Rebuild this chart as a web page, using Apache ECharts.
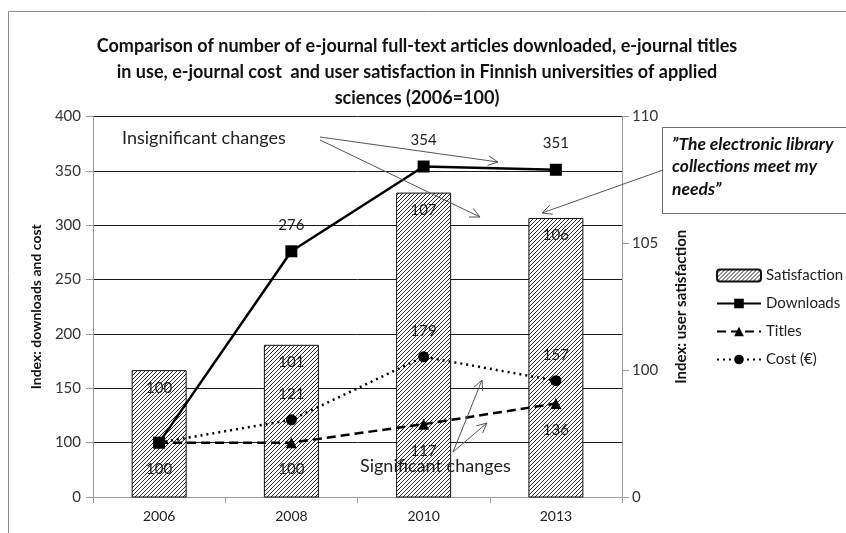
<!DOCTYPE html>
<html>
<head>
<meta charset="utf-8">
<script src="https://cdn.jsdelivr.net/npm/echarts@6/dist/echarts.min.js"></script>
<style>
  html, body { margin: 0; padding: 0; background: #fff; }
  #chart { width: 846px; height: 533px; }
</style>
</head>
<body>
<div id="chart"></div>
<script>
// Survey years
var years = ['2006', '2008', '2010', '2013'];

// Index values (2006 = 100)
var satisfaction = [100, 101, 107, 106];
var downloads = [100, 276, 354, 351];
var titles = [100, 100, 117, 136];
var cost = [100, 121, 179, 157];

// Which points carry a value label
var downloadsLabelled = [false, true, true, true];
var costLabelled = [false, true, true, true];
var titlesLabelled = [true, true, true, true];

// Axis tick labels (the lowest tick of each broken axis reads "0")
var leftTickLabels = ['0', '100', '150', '200', '250', '300', '350', '400'];
var rightTickLabels = ['0', '100', '105', '110'];

var FONT = 'Lato, "Open Sans", sans-serif';

// Diagonal hatch used for the satisfaction bars
function hatchPattern() {
  var c = document.createElement('canvas');
  c.width = 4; c.height = 4;
  var g = c.getContext('2d');
  g.fillStyle = '#ffffff';
  g.fillRect(0, 0, 4, 4);
  g.strokeStyle = '#2a2a2a';
  g.lineWidth = 1;
  g.beginPath();
  g.moveTo(-1, 5); g.lineTo(5, -1);
  g.moveTo(-1, 1); g.lineTo(1, -1);
  g.moveTo(3, 5); g.lineTo(5, 3);
  g.stroke();
  return { image: c, repeat: 'repeat' };
}
var hatch = hatchPattern();

function labelledData(values, flags) {
  return values.map(function (v, i) {
    return { value: v, label: { show: flags[i] } };
  });
}

// Thin annotation arrow with an open head
function arrow(x1, y1, x2, y2) {
  var ang = Math.atan2(y2 - y1, x2 - x1);
  var len = 11, spread = 0.45;
  var a1 = [x2 - len * Math.cos(ang - spread), y2 - len * Math.sin(ang - spread)];
  var a2 = [x2 - len * Math.cos(ang + spread), y2 - len * Math.sin(ang + spread)];
  var st = { stroke: '#555', lineWidth: 1, fill: null };
  return [
    { type: 'line', shape: { x1: x1, y1: y1, x2: x2, y2: y2 }, style: st, z: 50 },
    { type: 'polyline', shape: { points: [a1, [x2, y2], a2] }, style: st, z: 50 }
  ];
}

var chart = echarts.init(document.getElementById('chart'), null, { renderer: 'canvas' });

var graphics = [
  // outer frame
  { type: 'rect', shape: { x: 8.5, y: 11.5, width: 860, height: 560 },
    style: { stroke: '#8c8c8c', lineWidth: 1, fill: null }, z: -10, silent: true },
  // callout box
  { type: 'rect', shape: { x: 662.5, y: 127.5, width: 200, height: 86 },
    style: { stroke: '#6e6e6e', lineWidth: 1, fill: '#fff' }, z: 40 },
  { type: 'text', left: 672, top: 133, z: 41,
    style: { text: '\u201dThe electronic library\ncollections meet my\nneeds\u201d',
      font: 'italic bold 17.5px ' + FONT, fill: '#111', lineHeight: 22.5 } },
  { type: 'text', left: 122, top: 129, z: 41,
    style: { text: 'Insignificant changes', font: '18px ' + FONT, fill: '#222' } },
  { type: 'text', left: 360, top: 457, z: 41,
    style: { text: 'Significant changes', font: '18px ' + FONT, fill: '#222' } }
];
graphics = graphics
  .concat(arrow(320, 137, 498, 162))
  .concat(arrow(320, 140, 480, 217))
  .concat(arrow(663, 170, 542, 213))
  .concat(arrow(453, 452, 482, 380))
  .concat(arrow(453, 452, 487, 423));

var option = {
  backgroundColor: '#fff',
  animation: false,
  textStyle: { fontFamily: FONT },
  title: {
    text: 'Comparison of number of e-journal full-text articles downloaded, e-journal titles\nin use, e-journal cost  and user satisfaction in Finnish universities of applied\nsciences (2006=100)',
    left: 412, top: 28, textAlign: 'center',
    textStyle: { fontFamily: FONT, fontSize: 18, fontWeight: 'bold', color: '#111', lineHeight: 26 }
  },
  grid: { left: 93, right: 224, top: 116.5, bottom: 36, containLabel: false },
  legend: {
    orient: 'vertical', left: 711, top: 263, itemGap: 13,
    itemWidth: 44, itemHeight: 12,
    textStyle: { fontFamily: FONT, fontSize: 15, color: '#222' },
    data: ['Satisfaction', 'Downloads', 'Titles', 'Cost (\u20ac)']
  },
  xAxis: {
    type: 'category', data: years,
    axisLine: { lineStyle: { color: '#9a9a9a', width: 1 } },
    axisTick: { show: true, inside: false, length: 6, lineStyle: { color: '#9a9a9a' } },
    axisLabel: { fontFamily: FONT, fontSize: 14, color: '#222', margin: 12 }
  },
  yAxis: [
    {
      type: 'value', min: 50, max: 400, interval: 50, position: 'left',
      name: 'Index: downloads and cost', nameLocation: 'middle', nameGap: 50, nameRotate: 90,
      nameTextStyle: { fontFamily: FONT, fontSize: 14, fontWeight: 'bold', color: '#111' },
      axisLine: { show: true, lineStyle: { color: '#9a9a9a' } },
      axisTick: { show: true, length: 7, lineStyle: { color: '#9a9a9a' } },
      axisLabel: { fontFamily: FONT, fontSize: 15, color: '#333', margin: 12,
        formatter: function (v, i) { return leftTickLabels[i]; } },
      splitLine: { show: true, lineStyle: { color: '#1a1a1a', width: 1 } }
    },
    {
      type: 'value', min: 95, max: 110, interval: 5, position: 'right',
      name: 'Index: user satisfaction', nameLocation: 'middle', nameGap: 52, nameRotate: 90,
      nameTextStyle: { fontFamily: FONT, fontSize: 15, fontWeight: 'bold', color: '#111' },
      axisLine: { show: true, lineStyle: { color: '#9a9a9a' } },
      axisTick: { show: true, length: 7, lineStyle: { color: '#9a9a9a' } },
      axisLabel: { fontFamily: FONT, fontSize: 15, color: '#333', margin: 10,
        formatter: function (v, i) { return rightTickLabels[i]; } },
      splitLine: { show: false }
    }
  ],
  series: [
    {
      name: 'Satisfaction', type: 'bar', yAxisIndex: 1, data: satisfaction,
      barWidth: 55, z: 1,
      itemStyle: { color: hatch, borderColor: '#111', borderWidth: 1 },
      label: { show: true, position: 'insideTop', distance: 10,
        fontFamily: FONT, fontSize: 15, color: '#222' }
    },
    {
      name: 'Downloads', type: 'line', data: labelledData(downloads, downloadsLabelled),
      symbol: 'rect', symbolSize: 12, z: 5,
      lineStyle: { color: '#000', width: 2.5, type: 'solid' },
      itemStyle: { color: '#000' },
      label: { position: 'top', distance: 13, fontFamily: FONT, fontSize: 15, color: '#222' }
    },
    {
      name: 'Titles', type: 'line', data: labelledData(titles, titlesLabelled),
      symbol: 'triangle', symbolSize: 11, z: 4,
      lineStyle: { color: '#000', width: 2.5, type: [9, 5] },
      itemStyle: { color: '#000' },
      label: { position: 'bottom', distance: 14, fontFamily: FONT, fontSize: 15, color: '#222' }
    },
    {
      name: 'Cost (\u20ac)', type: 'line', data: labelledData(cost, costLabelled),
      symbol: 'circle', symbolSize: 11, z: 4,
      lineStyle: { color: '#000', width: 2.5, type: [2, 4] },
      itemStyle: { color: '#000' },
      label: { position: 'top', distance: 13, fontFamily: FONT, fontSize: 15, color: '#222' }
    }
  ],
  graphic: graphics
};

chart.setOption(option);
</script>
</body>
</html>
